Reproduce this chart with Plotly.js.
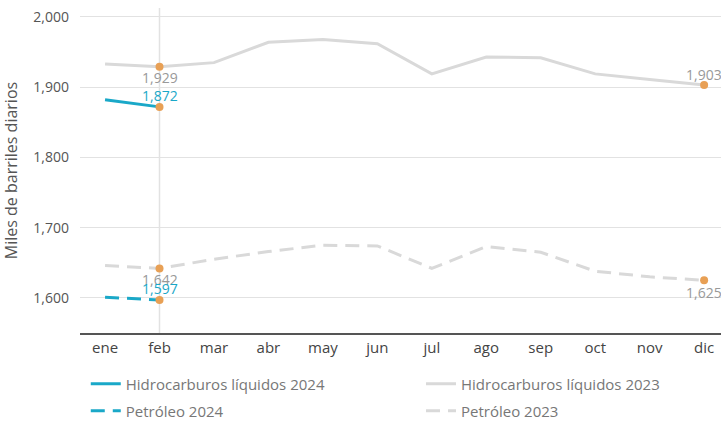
<!DOCTYPE html>
<html>
<head>
<meta charset="utf-8">
<script src="https://cdn.plot.ly/plotly-3.0.1.min.js"></script>
<style>html,body{margin:0;padding:0;background:#fff;}#chart{width:721px;height:421px;}</style>
</head>
<body>
<div id="chart"></div>
<script>
var months = ['ene','feb','mar','abr','may','jun','jul','ago','sep','oct','nov','dic'];
var hl2024 = [1882, 1872];
var hl2023 = [1933, 1929, 1935, 1964, 1968, 1962, 1919, 1943, 1942, 1919, 1911, 1903];
var pet2024 = [1601, 1597];
var pet2023 = [1646, 1642, 1655, 1666, 1675, 1674, 1642, 1673, 1665, 1638, 1630, 1625];
var yTicks = [1600, 1700, 1800, 1900, 2000];

var cyan = '#1aa8c8';
var gray = '#d9d9d9';
var orange = '#e8a055';
var fnt = '"Open Sans", Lato, sans-serif';
var dashPat = '14px,8px';

function fmt(v){ return v.toLocaleString('en-US'); }

function dot(xv, yv){
  return {x:[xv], y:[yv], type:'scatter', mode:'markers', showlegend:false, hoverinfo:'skip',
    marker:{color:orange, size:8}, cliponaxis:false};
}
function lab(xv, yv, shift, col){
  return {x:xv, y:yv, xref:'x', yref:'y', text:fmt(yv), showarrow:false, yanchor:'middle', xanchor:'center',
    yshift:shift, font:{family:fnt, size:14, color:col}};
}

var traces = [
  {x:months.slice(0,hl2024.length), y:hl2024, name:'Hidrocarburos líquidos 2024', type:'scatter', mode:'lines', line:{color:cyan, width:3}, legend:'legend'},
  {x:months, y:hl2023, name:'Hidrocarburos líquidos 2023', type:'scatter', mode:'lines', line:{color:gray, width:3}, legend:'legend2'},
  {x:months.slice(0,pet2024.length), y:pet2024, name:'Petróleo 2024', type:'scatter', mode:'lines', line:{color:cyan, width:3, dash:dashPat}, legend:'legend3'},
  {x:months, y:pet2023, name:'Petróleo 2023', type:'scatter', mode:'lines', line:{color:gray, width:3, dash:dashPat}, legend:'legend4'},
  dot(months[1], hl2023[1]), dot(months[1], hl2024[1]), dot(months[1], pet2023[1]), dot(months[1], pet2024[1]),
  dot(months[11], hl2023[11]), dot(months[11], pet2023[11])
];

var annotations = [
  lab(months[1], hl2023[1], -11, '#999'),
  lab(months[1], hl2024[1], 11, cyan),
  lab(months[1], pet2023[1], -11, '#999'),
  lab(months[1], pet2024[1], 11, cyan),
  lab(months[11], hl2023[11], 11, '#999'),
  lab(months[11], pet2023[11], -12, '#999')
];

var legBase = {orientation:'h', xref:'paper', xanchor:'left', yref:'container', yanchor:'middle',
  font:{family:fnt, size:15, color:'#777'}, itemwidth:30, bgcolor:'rgba(0,0,0,0)'};
var row1 = 1-384/421, row2 = 1-411/421, col1 = 0.009, col2 = 0.532;

var layout = {
  width:721, height:421,
  margin:{l:80, r:0, t:8, b:88, autoexpand:false},
  paper_bgcolor:'#fff', plot_bgcolor:'#fff',
  font:{family:fnt, color:'#555'},
  xaxis:{type:'category', categoryarray:months, range:[-0.46, 11.31], showgrid:false,
    showline:true, linecolor:'#555', linewidth:2, ticks:'', tickfont:{size:15, color:'#444'}, fixedrange:true},
  yaxis:{range:[1550, 2012.8], tickvals:yTicks, tickformat:',', gridcolor:'#e2e2e2', gridwidth:1,
    zeroline:false, showline:false, tickfont:{size:14, color:'#555'}, ticks:'', ticklabelstandoff:10,
    automargin:false,
    title:{text:'Miles de barriles diarios', font:{size:16, color:'#555'}, standoff:12}},
  shapes:[{type:'line', xref:'x', yref:'paper', x0:months[1], x1:months[1], y0:0, y1:1,
    line:{color:'#e2e2e2', width:1.5}, layer:'below'}],
  annotations:annotations,
  legend:Object.assign({}, legBase, {x:col1, y:row1}),
  legend2:Object.assign({}, legBase, {x:col2, y:row1}),
  legend3:Object.assign({}, legBase, {x:col1, y:row2}),
  legend4:Object.assign({}, legBase, {x:col2, y:row2}),
  showlegend:true
};

Plotly.newPlot('chart', traces, layout, {displayModeBar:false, staticPlot:true});
</script>
</body>
</html>
